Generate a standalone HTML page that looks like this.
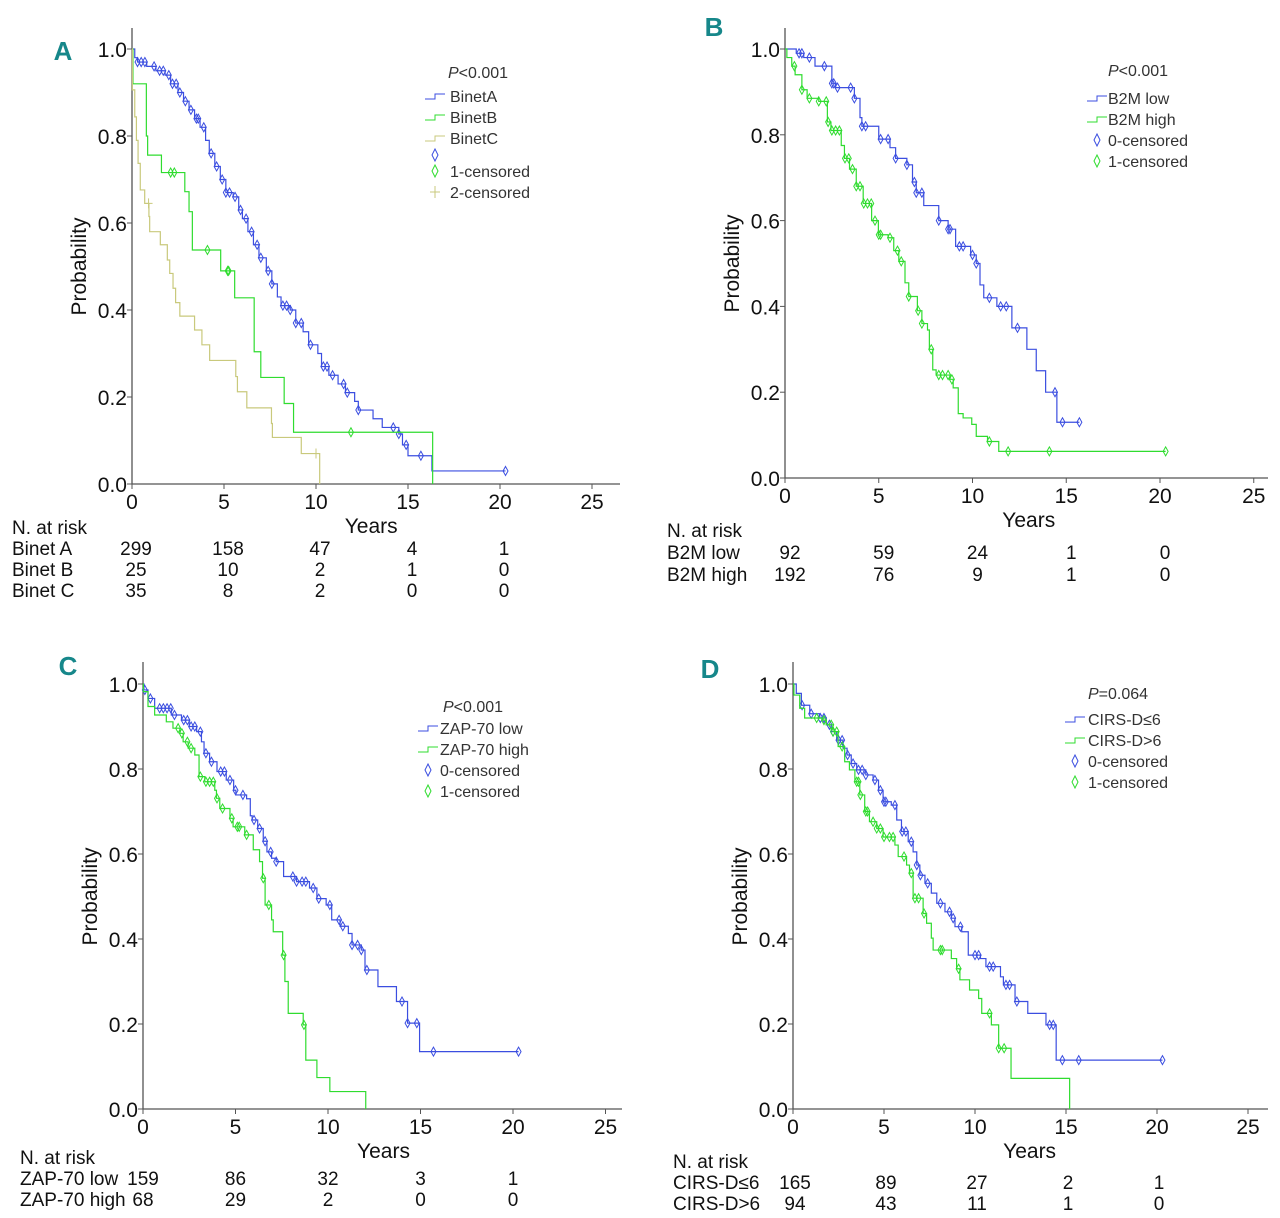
<!DOCTYPE html>
<html><head><meta charset="utf-8"><title>Kaplan-Meier survival curves</title>
<style>
body{margin:0;background:#fff;}
svg{display:block;font-family:"Liberation Sans Narrow","Liberation Sans",sans-serif;}
.tk{font-size:21px;fill:#111;}
.lg{font-size:16px;fill:#333;}
.rk{font-size:19px;fill:#111;}
.pl{font-size:26px;font-weight:bold;fill:#16878a;font-family:"Liberation Sans",sans-serif;}
</style></head>
<body>
<svg id="fig" width="1280" height="1218" viewBox="0 0 1280 1218" xmlns="http://www.w3.org/2000/svg"></svg>
<script>
// ---- Data (years, survival probability) ----
const xTicks = [0,5,10,15,20,25];
const yTicks = [0,0.2,0.4,0.6,0.8,1.0];
const yTickLabels = ["0.0","0.2","0.4","0.6","0.8","1.0"];

const aBlue = [[0,1],[0.15,0.98],[0.3,0.97],[0.8,0.96],[1.3,0.95],[1.8,0.94],[2.1,0.92],[2.5,0.9],[2.8,0.88],[3.1,0.86],[3.4,0.84],[3.7,0.82],[4.0,0.79],[4.2,0.76],[4.5,0.73],[4.8,0.70],[5.1,0.67],[5.5,0.66],[5.8,0.63],[6.0,0.61],[6.3,0.58],[6.6,0.55],[6.9,0.52],[7.3,0.49],[7.6,0.46],[7.9,0.43],[8.1,0.41],[8.6,0.40],[8.9,0.37],[9.3,0.35],[9.6,0.32],[10.1,0.30],[10.3,0.27],[10.7,0.25],[11.2,0.23],[11.6,0.21],[12.1,0.19],[12.3,0.17],[13.1,0.15],[13.6,0.13],[14.5,0.115],[14.7,0.09],[15.0,0.065],[16.3,0.03]];
const aBlueEnd = 20.3;
const aBlueCens = [0.3,0.5,0.7,1.2,1.5,1.7,2.0,2.2,2.4,2.6,2.9,3.2,3.5,3.6,3.9,4.3,4.6,4.9,5.1,5.3,5.6,5.9,6.2,6.5,6.8,7.0,7.4,7.6,8.2,8.4,8.6,8.9,9.2,9.7,10.4,10.6,10.9,11.5,11.7,12.3,14.2,14.5,14.9,15.7,20.3];
const aGreen = [[0,1],[0.05,0.92],[0.78,0.80],[0.85,0.756],[1.6,0.716],[2.87,0.672],[3.1,0.626],[3.28,0.538],[4.82,0.49],[5.58,0.428],[6.64,0.304],[7.0,0.245],[8.27,0.185],[8.78,0.119],[16.34,0]];
const aGreenEnd = 16.34;
const aGreenCens = [2.1,2.3,4.1,5.2,5.25,11.9];
const aOlive = [[0,1],[0.02,0.906],[0.15,0.844],[0.24,0.79],[0.33,0.737],[0.45,0.676],[0.69,0.645],[0.92,0.615],[0.96,0.58],[1.54,0.55],[1.92,0.515],[2.05,0.484],[2.23,0.45],[2.37,0.417],[2.6,0.386],[3.4,0.354],[3.8,0.32],[4.22,0.284],[5.64,0.247],[5.73,0.212],[6.24,0.175],[7.58,0.139],[7.63,0.107],[9.2,0.07],[10.2,0]];
const aOliveEnd = 10.2;
const aOliveCens = [0.9,10.0];

const bBlue = [[0,1],[0.6,0.99],[1.0,0.98],[1.6,0.96],[2.5,0.92],[2.7,0.91],[3.7,0.885],[4.0,0.84],[4.1,0.82],[5.0,0.79],[5.6,0.77],[5.9,0.745],[6.5,0.73],[6.8,0.69],[7.0,0.665],[7.4,0.635],[8.2,0.6],[8.7,0.58],[9.1,0.54],[9.9,0.52],[10.2,0.5],[10.4,0.45],[10.6,0.42],[11.3,0.40],[12.1,0.35],[12.9,0.3],[13.4,0.25],[13.9,0.2],[14.5,0.13]];
const bBlueEnd = 15.7;
const bBlueCens = [0.75,0.9,1.3,2.1,2.5,2.6,2.8,3.5,3.7,4.1,4.3,5.1,5.5,5.9,6.5,6.9,7.0,7.3,8.2,8.7,8.8,9.3,9.5,10.0,10.2,10.9,11.5,11.8,12.4,14.4,14.8,15.7];
const bGreen = [[0,1],[0.1,0.98],[0.36,0.96],[0.54,0.94],[0.9,0.905],[1.18,0.885],[1.8,0.878],[2.26,0.83],[2.45,0.81],[3.0,0.775],[3.17,0.745],[3.44,0.72],[3.8,0.68],[4.17,0.64],[4.62,0.6],[4.98,0.567],[5.5,0.56],[5.8,0.53],[6.07,0.505],[6.4,0.455],[6.6,0.423],[7.06,0.39],[7.3,0.36],[7.6,0.345],[7.7,0.3],[7.88,0.252],[8.06,0.24],[8.8,0.23],[8.97,0.21],[9.24,0.15],[9.5,0.14],[9.96,0.125],[10.2,0.097],[10.8,0.085],[11.4,0.062]];
const bGreenEnd = 20.3;
const bGreenCens = [0.5,0.9,1.3,1.8,2.2,2.3,2.5,2.7,2.9,3.2,3.4,3.6,3.8,4.0,4.2,4.4,4.6,4.8,5.0,5.1,5.6,6.0,6.2,6.6,7.1,7.3,7.8,8.2,8.4,8.7,8.9,10.9,11.9,14.1,20.3];

const cBlue = [[0,1],[0.05,0.986],[0.27,0.966],[0.63,0.943],[1.53,0.927],[2.08,0.915],[2.5,0.9],[2.9,0.888],[3.16,0.864],[3.3,0.837],[3.6,0.817],[4.0,0.794],[4.5,0.774],[4.9,0.75],[5.02,0.739],[5.6,0.73],[5.8,0.69],[5.9,0.68],[6.2,0.66],[6.5,0.63],[6.7,0.605],[6.95,0.59],[7.2,0.582],[7.6,0.547],[8.3,0.535],[9.0,0.52],[9.4,0.495],[9.9,0.48],[10.2,0.445],[10.65,0.43],[11.1,0.413],[11.3,0.386],[11.8,0.374],[12.0,0.327],[12.7,0.288],[13.7,0.253],[14.3,0.202],[14.95,0.135]];
const cBlueEnd = 20.3;
const cBlueCens = [0.1,0.4,0.9,1.1,1.3,1.5,1.7,2.2,2.4,2.6,2.8,3.1,3.4,3.7,4.2,4.4,4.7,5.0,5.4,6.0,6.3,6.6,6.9,7.2,8.1,8.3,8.6,8.8,9.2,9.5,10.1,10.6,10.8,11.3,11.6,11.8,12.1,14.0,14.3,14.8,15.7,20.3];
const cGreen = [[0,1],[0.02,0.982],[0.27,0.947],[0.63,0.927],[1.26,0.911],[1.62,0.896],[2.0,0.884],[2.17,0.864],[2.44,0.849],[2.8,0.833],[3.03,0.782],[3.34,0.77],[3.88,0.75],[3.97,0.731],[4.15,0.707],[4.7,0.684],[4.87,0.664],[5.5,0.645],[5.96,0.61],[6.3,0.582],[6.46,0.543],[6.6,0.48],[6.95,0.445],[7.04,0.417],[7.55,0.362],[7.67,0.3],[7.85,0.225],[8.66,0.198],[8.8,0.115],[9.4,0.074],[10.1,0.041],[12.04,0]];
const cGreenEnd = 12.04;
const cGreenCens = [1.9,2.1,2.4,2.6,3.1,3.4,3.6,3.8,4.0,4.3,4.8,5.1,5.2,5.6,6.5,6.8,7.6,8.7];

const dBlue = [[0,1],[0.18,0.978],[0.46,0.95],[0.92,0.93],[1.47,0.92],[1.83,0.904],[2.1,0.888],[2.4,0.868],[2.75,0.849],[2.97,0.833],[3.2,0.813],[3.5,0.798],[4.0,0.786],[4.4,0.774],[4.7,0.75],[4.95,0.723],[5.4,0.715],[5.7,0.68],[5.96,0.653],[6.33,0.629],[6.6,0.605],[6.8,0.574],[6.97,0.55],[7.25,0.531],[7.6,0.508],[7.9,0.484],[8.35,0.464],[8.7,0.449],[8.9,0.429],[9.27,0.417],[9.63,0.362],[10.3,0.354],[10.6,0.335],[11.4,0.311],[11.56,0.292],[12.2,0.253],[12.9,0.225],[13.9,0.198],[14.46,0.115]];
const dBlueEnd = 20.3;
const dBlueCens = [0.5,1.0,1.5,1.7,2.0,2.2,2.5,2.7,3.0,3.3,3.6,3.8,4.0,4.5,4.8,5.0,5.1,5.6,6.0,6.2,6.5,6.8,7.0,7.4,8.1,8.6,8.8,9.2,10.0,10.2,10.8,11.0,11.7,11.9,12.3,14.1,14.3,14.8,15.7,20.3];
const dGreen = [[0,1],[0.05,0.974],[0.37,0.943],[0.64,0.92],[1.65,0.915],[1.83,0.904],[2.2,0.888],[2.48,0.853],[2.84,0.817],[3.1,0.798],[3.4,0.77],[3.67,0.739],[3.94,0.7],[4.2,0.676],[4.6,0.66],[4.95,0.64],[5.6,0.621],[5.78,0.594],[6.24,0.574],[6.4,0.555],[6.6,0.496],[7.15,0.46],[7.34,0.437],[7.6,0.402],[7.7,0.374],[8.7,0.354],[8.99,0.33],[9.17,0.304],[9.7,0.28],[10.2,0.26],[10.37,0.225],[10.9,0.198],[11.3,0.143],[11.98,0.072],[15.2,0]];
const dGreenEnd = 15.2;
const dGreenCens = [1.3,1.7,2.1,2.2,2.4,2.7,3.5,3.6,3.7,4.0,4.1,4.4,4.6,4.8,5.0,5.3,5.5,6.1,6.5,6.7,6.9,7.2,8.1,8.2,9.1,10.8,11.3,11.6];

const riskYears = [0,5,10,15,20];
const aRiskNames = ["Binet A","Binet B","Binet C"];
const aRisk = [[299,158,47,4,1],[25,10,2,1,0],[35,8,2,0,0]];
const bRiskNames = ["B2M low","B2M high"];
const bRisk = [[92,59,24,1,0],[192,76,9,1,0]];
const cRiskNames = ["ZAP-70 low","ZAP-70 high"];
const cRisk = [[159,86,32,3,1],[68,29,2,0,0]];
const dRiskNames = ["CIRS-D\u22646","CIRS-D>6"];
const dRisk = [[165,89,27,2,1],[94,43,11,1,0]];

// ---- rendering ----
const NS = "http://www.w3.org/2000/svg";
const svg = document.getElementById('fig');
const BLUE = "#3b4ee0", GREEN = "#2fdc2f", OLIVE = "#c9c97c";
function mk(tag, attrs, parent){ const e=document.createElementNS(NS,tag); for(const k in attrs) e.setAttribute(k,attrs[k]); (parent||svg).appendChild(e); return e; }
function txt(s, x, y, cls, anchor, parent){ const t=mk('text',{x:x,y:y,class:cls,'text-anchor':anchor||'start'},parent); t.textContent=s; return t; }
function survAt(steps,t){ let s=1; for(const p of steps){ if(p[0]<=t) s=p[1]; else break; } return s; }

function panel(cfg){
  const g = mk('g',{});
  
  
  const X = t => cfg.x0 + (cfg.x20-cfg.x0)*t/20;
  const Y = s => cfg.y0 + (cfg.y1-cfg.y0)*s;
  const ax = mk('path',{d:`M${cfg.x0},${cfg.yTop}V${cfg.y0}H${cfg.xEnd}`,stroke:'#555',fill:'none','stroke-width':1.3},g);
  
  
  yTicks.forEach((v,i)=>{
    mk('line',{x1:cfg.x0-5,x2:cfg.x0,y1:Y(v),y2:Y(v),stroke:'#555'},g);
    const t = txt(yTickLabels[i], cfg.x0-5, Y(v)+8, 'tk','end',g);
    
    
  });
  xTicks.forEach(v=>{
    mk('line',{x1:X(v),x2:X(v),y1:cfg.y0,y2:cfg.y0+5,stroke:'#555'},g);
    const t = txt(String(v), X(v), cfg.y0+25, 'tk','middle',g);
    
    
  });
  const yl = txt('Probability', 0, 0, 'tk','middle',g);
  yl.setAttribute('transform',`translate(${cfg.x0-46},${(cfg.y0+cfg.y1)/2}) rotate(-90)`);
  
  
  const xl = txt('Years', cfg.x0 + (cfg.x20-cfg.x0)*(13/20), cfg.y0+49, 'tk','middle',g);
  
  
  const pl = txt(cfg.id, cfg.labelX, cfg.labelY, 'pl','middle',g);
  
  
  cfg.series.forEach(se=>{
    let d = `M${X(0)},${Y(se.steps[0][1])}`;
    se.steps.forEach(p=>{ d += `H${X(p[0])}V${Y(p[1])}`; });
    d += `H${X(se.end)}`;
    const path = mk('path',{d:d,stroke:se.color,fill:'none','stroke-width':1.2},g);
    
    
    se.cens.forEach(t=>{
      const cx=X(t), cy=Y(survAt(se.steps,t));
      let m;
      if(se.marker==='plus') m = mk('path',{d:`M${cx-4},${cy}H${cx+4}M${cx},${cy-5}V${cy+5}`,stroke:se.color,fill:'none'},g);
      else m = mk('path',{d:`M${cx},${cy-4.5}L${cx+2.5},${cy}L${cx},${cy+4.5}L${cx-2.5},${cy}Z`,stroke:se.color,fill:'none','stroke-width':1},g);
      
      
    });
  });
  const lg = mk('g',{},g);
  
  
  const L = cfg.legend;
  const p = mk('text',{x:L.px,y:L.py,class:'lg'},lg);
  p.innerHTML = `<tspan font-style="italic">P</tspan>${L.p}`;
  let y = L.y;
  L.lines.forEach(l=>{
    mk('path',{d:`M${L.lx},${y-3}H${L.lx+10}V${y-8}H${L.lx+20}`,stroke:l.c,fill:'none'},lg);
    const e = txt(l.t, L.tx, y, 'lg','start',lg);
    
    
    y += L.dy;
  });
  L.marks.forEach((l,i)=>{
    const base = y + L.markGap;
    const cx=L.lx+10, cc = base - 6 + ((i===0 && L.firstShift)?L.firstShift:0);
    if(l.m==='plus') mk('path',{d:`M${cx-5},${cc}H${cx+5}M${cx},${cc-6}V${cc+6}`,stroke:l.c,fill:'none'},lg);
    else mk('path',{d:`M${cx},${cc-6}L${cx+3},${cc}L${cx},${cc+6}L${cx-3},${cc}Z`,stroke:l.c,fill:'none'},lg);
    if(l.t){ const e = txt(l.t, L.tx, base, 'lg','start',lg);
      
       }
    y += L.dy;
  });
  const rt = mk('g',{},g);
  
  
  txt('N. at risk', cfg.rx, cfg.ry, 'rk','start',rt);
  cfg.riskNames.forEach((n,i)=>{
    const yy = cfg.ry + (i+1)*cfg.rdy;
    txt(n, cfg.rx, yy, 'rk','start',rt);
    cfg.risk[i].forEach((v,j)=>{ txt(String(v), X(riskYears[j])+cfg.rOff, yy, 'rk','middle',rt); });
  });
}

panel({id:'A',x0:132,x20:500,y1:49,y0:484,yTop:28,xEnd:620,labelX:63,labelY:60,
  series:[{name:'binet-a',steps:aBlue,end:aBlueEnd,cens:aBlueCens,color:BLUE},
          {name:'binet-b',steps:aGreen,end:aGreenEnd,cens:aGreenCens,color:GREEN},
          {name:'binet-c',steps:aOlive,end:aOliveEnd,cens:aOliveCens,color:OLIVE,marker:'plus'}],
  legend:{p:'<0.001',px:448,py:78,lx:425,tx:450,y:102,dy:21,markGap:-9,firstShift:5,
    lines:[{c:BLUE,t:'BinetA'},{c:GREEN,t:'BinetB'},{c:OLIVE,t:'BinetC'}],
    marks:[{c:BLUE,t:''},{c:GREEN,t:'1-censored'},{c:OLIVE,t:'2-censored',m:'plus'}]},
  rx:12,ry:534,rdy:21,rOff:4,riskNames:aRiskNames,risk:aRisk});

panel({id:'B',x0:785,x20:1160,y1:49,y0:478,yTop:28,xEnd:1268,labelX:714,labelY:36,
  series:[{name:'b2m-low',steps:bBlue,end:bBlueEnd,cens:bBlueCens,color:BLUE},
          {name:'b2m-high',steps:bGreen,end:bGreenEnd,cens:bGreenCens,color:GREEN}],
  legend:{p:'<0.001',px:1108,py:76,lx:1087,tx:1108,y:104,dy:21,markGap:0,
    lines:[{c:BLUE,t:'B2M low'},{c:GREEN,t:'B2M high'}],
    marks:[{c:BLUE,t:'0-censored'},{c:GREEN,t:'1-censored'}]},
  rx:667,ry:537,rdy:22,rOff:5,riskNames:bRiskNames,risk:bRisk});

panel({id:'C',x0:143,x20:513,y1:684,y0:1109,yTop:662,xEnd:622,labelX:68,labelY:675,
  series:[{name:'zap70-low',steps:cBlue,end:cBlueEnd,cens:cBlueCens,color:BLUE},
          {name:'zap70-high',steps:cGreen,end:cGreenEnd,cens:cGreenCens,color:GREEN}],
  legend:{p:'<0.001',px:443,py:712,lx:418,tx:440,y:734,dy:21,markGap:0,
    lines:[{c:BLUE,t:'ZAP-70 low'},{c:GREEN,t:'ZAP-70 high'}],
    marks:[{c:BLUE,t:'0-censored'},{c:GREEN,t:'1-censored'}]},
  rx:20,ry:1164,rdy:21,rOff:0,riskNames:cRiskNames,risk:cRisk});

panel({id:'D',x0:793,x20:1157,y1:684,y0:1109,yTop:662,xEnd:1268,labelX:710,labelY:678,
  series:[{name:'cirs-low',steps:dBlue,end:dBlueEnd,cens:dBlueCens,color:BLUE},
          {name:'cirs-high',steps:dGreen,end:dGreenEnd,cens:dGreenCens,color:GREEN}],
  legend:{p:'=0.064',px:1088,py:699,lx:1065,tx:1088,y:725,dy:21,markGap:0,
    lines:[{c:BLUE,t:'CIRS-D\u22646'},{c:GREEN,t:'CIRS-D>6'}],
    marks:[{c:BLUE,t:'0-censored'},{c:GREEN,t:'1-censored'}]},
  rx:673,ry:1168,rdy:21,rOff:2,riskNames:dRiskNames,risk:dRisk});
</script>
</body></html>
